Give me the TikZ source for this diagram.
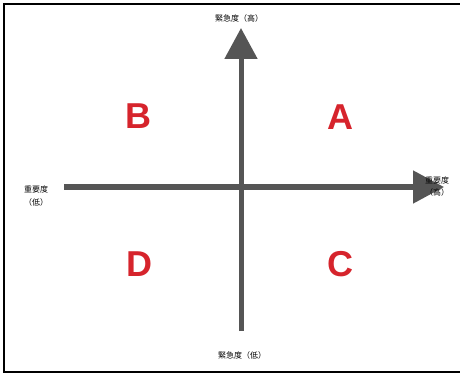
\documentclass[tikz,border=0pt]{standalone}
\usepackage{fontspec}
\setmainfont{Liberation Sans}
\newfontfamily\jpfont{Noto Sans CJK JP}
\usepackage{tikz}
\usetikzlibrary{arrows.meta,positioning}
\definecolor{axisgray}{RGB}{85,85,85}
\definecolor{quadred}{RGB}{214,36,44}
\tikzset{
  axis/.style={axisgray, line width=5pt, -{Triangle[length=31pt, width=32pt]}},
  axislabel/.style={font=\jpfont\fontsize{8}{9}\selectfont, inner sep=0.5pt, align=center},
  quadrant/.style={font=\bfseries\fontsize{36}{36}\selectfont, text=quadred, inner sep=0pt}
}

\begin{document}
\begin{tikzpicture}[x=1pt, y=-1pt]
  \useasboundingbox (0,0) rectangle (460,374);
  \draw[line width=2.5pt] (460,4) -- (4,4) -- (4,372) -- (460,372);
  % axes
  \coordinate (xl) at (64,187);
  \coordinate (xr) at (444,187);
  \coordinate (yb) at (241,331);
  \coordinate (yt) at (241,28);
  \draw[axis] (xl) -- (xr);
  \draw[axis] (yb) -- (yt);
  % axis labels
  \node[axislabel] (urghi) at (239,18) {緊急度（高）};
  \node[axislabel] (urglo) at (242,355) {緊急度（低）};
  \node[axislabel] (implo) at (36,196) {重要度\\[4pt]（低）};
  \node[axislabel] (imphi) at (437,187) {重要度\\[3pt]（高）};
  % quadrants
  \node[quadrant] (qa) at (340,117) {A};
  \node[quadrant] (qb) at (138,116) {B};
  \node[quadrant] (qc) at (340,264) {C};
  \node[quadrant] (qd) at (139,264) {D};
\end{tikzpicture}
\end{document}
